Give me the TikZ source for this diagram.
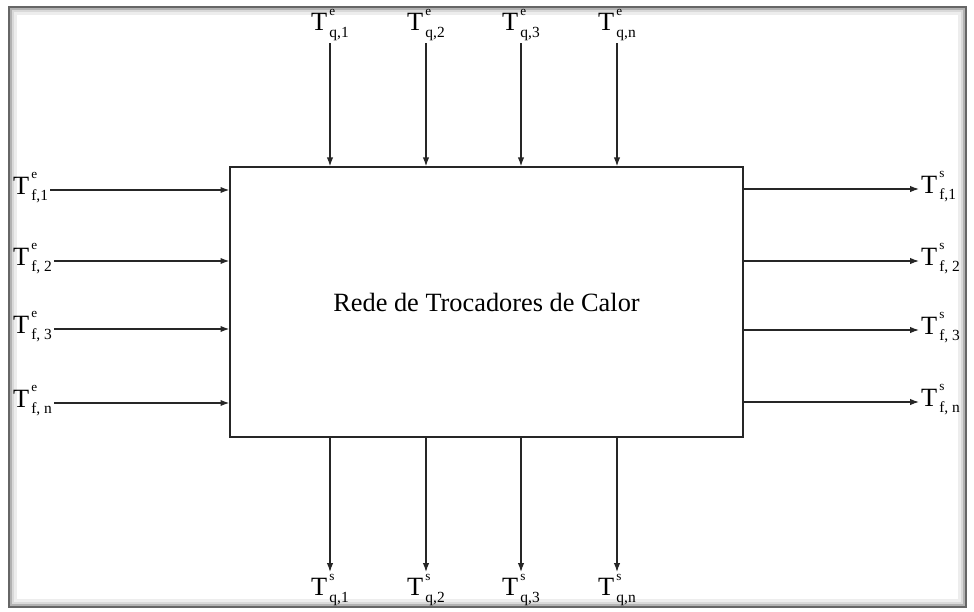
\documentclass[tikz,border=0pt]{standalone}
\usepackage{fontspec}
\setmainfont{Liberation Serif}
\usetikzlibrary{arrows.meta}

\newcommand{\Ttemp}[2]{T\kern1.2pt\rlap{\raisebox{8.6pt}{\fontsize{7.5}{8}\selectfont #1}}\raisebox{-3.9pt}{\fontsize{8.8}{9}\selectfont #2}}

\begin{document}
\begin{tikzpicture}[x=0.02cm, y=-0.02cm,
      caixa/.style={draw=black!85, line width=0.85pt, minimum width=10.26cm, minimum height=5.4cm, font=\fontsize{15}{18}\selectfont},
      rotulo/.style={font=\fontsize{15}{17}\selectfont, inner sep=1pt},
      seta/.style={draw=black!85, line width=0.7pt, -{Latex[length=5pt,width=3.6pt]}},
      moldura/.style={draw=black!60, line width=1.2pt}
    ]
    \useasboundingbox (0,0) rectangle (974,612);
    % --- moldura com sombra ---
    \draw[moldura] (9,7) rectangle (966,607);
    \draw[black!30, line width=1.2pt] (11,9) rectangle (964,605);
    \draw[black!15, line width=1.5pt] (13,11) rectangle (962,603);
    \draw[black!7, line width=2pt] (15.5,13.5) rectangle (959.5,600.5);

    % --- rede ---
    \node[caixa] (rede) at (486.5,302) {Rede de Trocadores de Calor};

    % --- correntes quentes (entrada) ---
    \node[rotulo, anchor=south] (qe1) at (330,43) {\Ttemp{e}{q,1}};
    \node[rotulo, anchor=south] (qe2) at (426,43) {\Ttemp{e}{q,2}};
    \node[rotulo, anchor=south] (qe3) at (521,43) {\Ttemp{e}{q,3}};
    \node[rotulo, anchor=south] (qen) at (617,43) {\Ttemp{e}{q,n}};
    \draw[seta] (qe1.south) -- (qe1.south |- rede.north);
    \draw[seta] (qe2.south) -- (qe2.south |- rede.north);
    \draw[seta] (qe3.south) -- (qe3.south |- rede.north);
    \draw[seta] (qen.south) -- (qen.south |- rede.north);

    % --- correntes quentes (saida) ---
    \node[rotulo, anchor=north] (qs1) at (330,572) {\Ttemp{s}{q,1}};
    \node[rotulo, anchor=north] (qs2) at (426,572) {\Ttemp{s}{q,2}};
    \node[rotulo, anchor=north] (qs3) at (521,572) {\Ttemp{s}{q,3}};
    \node[rotulo, anchor=north] (qsn) at (617,572) {\Ttemp{s}{q,n}};
    \draw[seta] (qs1.north |- rede.south) -- (qs1.north);
    \draw[seta] (qs2.north |- rede.south) -- (qs2.north);
    \draw[seta] (qs3.north |- rede.south) -- (qs3.north);
    \draw[seta] (qsn.north |- rede.south) -- (qsn.north);

    % --- correntes frias (entrada) ---
    \node[rotulo, anchor=mid west] (fe1) at (11,190) {\Ttemp{e}{f,1}};
    \node[rotulo, anchor=mid west] (fe2) at (11,261) {\Ttemp{e}{f, 2}};
    \node[rotulo, anchor=mid west] (fe3) at (11,329) {\Ttemp{e}{f, 3}};
    \node[rotulo, anchor=mid west] (fen) at (11,403) {\Ttemp{e}{f, n}};
    \draw[seta] (fe1.mid east) -- (fe1.mid east -| rede.west);
    \draw[seta] (fe2.mid east) -- (fe2.mid east -| rede.west);
    \draw[seta] (fe3.mid east) -- (fe3.mid east -| rede.west);
    \draw[seta] (fen.mid east) -- (fen.mid east -| rede.west);

    % --- correntes frias (saida) ---
    \node[rotulo, anchor=mid west] (fs1) at (919,189) {\Ttemp{s}{f,1}};
    \node[rotulo, anchor=mid west] (fs2) at (919,261) {\Ttemp{s}{f, 2}};
    \node[rotulo, anchor=mid west] (fs3) at (919,330) {\Ttemp{s}{f, 3}};
    \node[rotulo, anchor=mid west] (fsn) at (919,402) {\Ttemp{s}{f, n}};
    \draw[seta] (fs1.mid west -| rede.east) -- (fs1.mid west);
    \draw[seta] (fs2.mid west -| rede.east) -- (fs2.mid west);
    \draw[seta] (fs3.mid west -| rede.east) -- (fs3.mid west);
    \draw[seta] (fsn.mid west -| rede.east) -- (fsn.mid west);
  \end{tikzpicture}
\end{document}
